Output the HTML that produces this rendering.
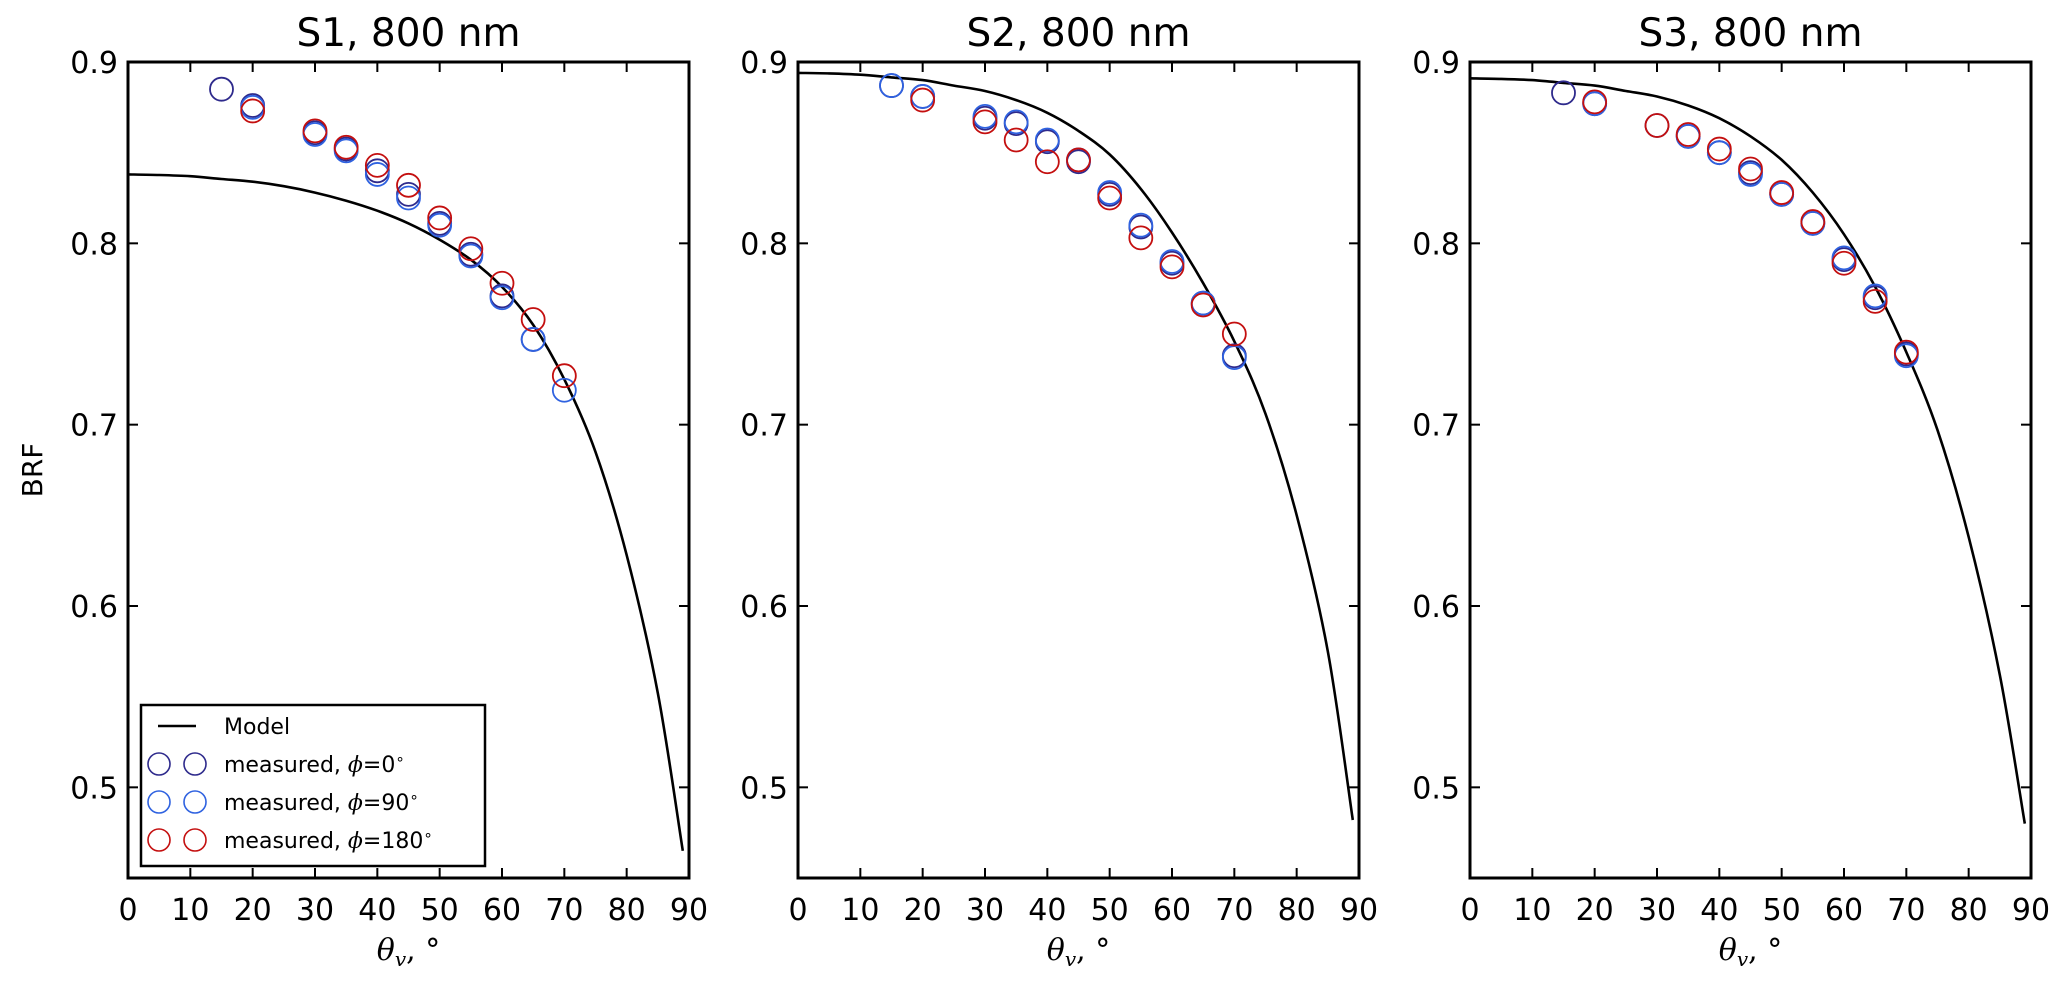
<!DOCTYPE html>
<html><head><meta charset="utf-8"><style>
html,body{margin:0;padding:0;background:#fff;}
svg{display:block;font-family:"DejaVu Sans","Liberation Sans",sans-serif;}
</style></head><body>
<svg id="fig" width="2067" height="987" viewBox="0 0 2067 987" xmlns="http://www.w3.org/2000/svg"></svg>
<script>
const xTicks = [0,10,20,30,40,50,60,70,80,90];
const yTicks = [0.5,0.6,0.7,0.8,0.9];
const yTickLabels = ["0.5","0.6","0.7","0.8","0.9"];
const panelTitles = ["S1, 800 nm","S2, 800 nm","S3, 800 nm"];
const angles = [15,20,30,35,40,45,50,55,60,65,70];
const modelX = [0,5,10,15,20,25,30,35,40,45,50,55,60,65,70,75,80,85,89];
const s1Model = [0.838,0.8377,0.837,0.8355,0.834,0.8315,0.828,0.8235,0.818,0.811,0.802,0.791,0.776,0.755,0.725,0.685,0.628,0.552,0.465];
const s2Model = [0.894,0.8937,0.893,0.8915,0.890,0.887,0.884,0.879,0.872,0.862,0.849,0.830,0.806,0.778,0.746,0.706,0.650,0.575,0.482];
const s3Model = [0.891,0.8907,0.890,0.8885,0.887,0.884,0.881,0.876,0.869,0.859,0.846,0.828,0.805,0.776,0.740,0.697,0.638,0.562,0.480];
const s1Phi0 = [0.885,0.876,0.861,0.852,0.840,0.827,0.811,0.794,0.771,0.747,null];
const s1Phi90 = [null,0.875,0.860,0.851,0.838,0.825,0.810,0.793,0.770,0.747,0.719];
const s1Phi180 = [null,0.873,0.862,0.853,0.843,0.832,0.814,0.797,0.778,0.758,0.727];
const s2Phi0 = [0.887,0.881,0.869,0.866,0.856,0.845,0.827,0.809,0.789,0.767,0.738];
const s2Phi90 = [0.887,0.881,0.870,0.867,0.857,0.846,0.828,0.810,0.790,0.767,0.737];
const s2Phi180 = [null,0.879,0.867,0.857,0.845,0.846,0.825,0.803,0.787,0.766,0.750];
const s3Phi0 = [0.883,0.877,0.865,0.859,0.850,0.839,0.827,0.811,0.791,0.770,0.739];
const s3Phi90 = [null,0.877,null,0.859,0.850,0.838,0.827,0.811,0.792,0.771,0.738];
const s3Phi180 = [null,0.878,0.865,0.860,0.852,0.841,0.828,0.812,0.789,0.768,0.740];
const legendLabels = ["Model","measured, ","measured, ","measured, "];
const legendPhi = ["","0","90","180"];

const NS="http://www.w3.org/2000/svg";
const svg=document.getElementById('fig');
const colors={p0:"#2e2a8c",p90:"#2f62e0",p180:"#c40f0f"};
const panels=[
 {left:128,title:panelTitles[0],model:s1Model,d:[s1Phi0,s1Phi90,s1Phi180],name:"s1"},
 {left:798,title:panelTitles[1],model:s2Model,d:[s2Phi0,s2Phi90,s2Phi180],name:"s2"},
 {left:1470,title:panelTitles[2],model:s3Model,d:[s3Phi0,s3Phi90,s3Phi180],name:"s3"}];
const W=561, TOP=62, BOT=878, YMIN=0.45, YMAX=0.9;
function mk(tag,attrs,parent){const e=document.createElementNS(NS,tag);for(const k in attrs)e.setAttribute(k,attrs[k]);(parent||svg).appendChild(e);return e;}
function smoothPath(P){
  let d='M'+P[0][0].toFixed(1)+','+P[0][1].toFixed(1);
  for(let i=0;i<P.length-1;i++){
    const p0=P[Math.max(0,i-1)],p1=P[i],p2=P[i+1],p3=P[Math.min(P.length-1,i+2)];
    const c1=[p1[0]+(p2[0]-p0[0])/6,p1[1]+(p2[1]-p0[1])/6];
    const c2=[p2[0]-(p3[0]-p1[0])/6,p2[1]-(p3[1]-p1[1])/6];
    d+=' C'+c1[0].toFixed(1)+','+c1[1].toFixed(1)+' '+c2[0].toFixed(1)+','+c2[1].toFixed(1)+' '+p2[0].toFixed(1)+','+p2[1].toFixed(1);
  }
  return d;
}
panels.forEach((p,pi)=>{
  const g=mk('g',{});
  
  
  const xs=v=>p.left+v/90*W;
  const ys=v=>BOT-(v-YMIN)/(YMAX-YMIN)*(BOT-TOP);
  const P=modelX.map((x,i)=>[xs(x),ys(p.model[i])]);
  const ml=mk('path',{d:smoothPath(P),fill:'none',stroke:'#000','stroke-width':2.6,'stroke-linejoin':'round'},g);
  
  
  const cols=[colors.p0,colors.p90,colors.p180];
  const snames=['phi0','phi90','phi180'];
  p.d.forEach((arr,si)=>{
    arr.forEach((v,i)=>{
      if(v===null)return;
      const c=mk('circle',{cx:xs(angles[i]),cy:ys(v),r:11.5,fill:'none',stroke:cols[si],'stroke-width':1.8},g);
      
      
    });
  });
  const fr=mk('rect',{x:p.left,y:TOP,width:W,height:BOT-TOP,fill:'none',stroke:'#000','stroke-width':3},g);
  
  
  xTicks.forEach(t=>{
    const x=xs(t);
    mk('line',{x1:x,y1:BOT,x2:x,y2:BOT-10,stroke:'#000','stroke-width':2},g);
    mk('line',{x1:x,y1:TOP,x2:x,y2:TOP+10,stroke:'#000','stroke-width':2},g);
    const tx=mk('text',{x:x,y:BOT+42,'font-size':30,'text-anchor':'middle'},g);
    tx.textContent=t;
    
    
  });
  yTicks.forEach((t,i)=>{
    const y=ys(t);
    mk('line',{x1:p.left,y1:y,x2:p.left+10,y2:y,stroke:'#000','stroke-width':2},g);
    mk('line',{x1:p.left+W,y1:y,x2:p.left+W-10,y2:y,stroke:'#000','stroke-width':2},g);
    const tx=mk('text',{x:p.left-10,y:y+11,'font-size':30,'text-anchor':'end'},g);
    tx.textContent=yTickLabels[i];
    
    
  });
  const ti=mk('text',{x:p.left+W/2,y:46,'font-size':39,'text-anchor':'middle'},g);
  ti.textContent=p.title;
  
  
  const xl=mk('text',{x:p.left+W/2,y:960,'font-size':30,'text-anchor':'middle','font-family':'DejaVu Serif, serif'},g);
  xl.innerHTML='<tspan font-style="italic">θ</tspan><tspan font-style="italic" font-size="20" dy="6">v</tspan><tspan dy="-6">, °</tspan>';
  
  
});
const yl=mk('text',{x:0,y:0,'font-size':28,'text-anchor':'middle',transform:'translate(42,470) rotate(-90)'});
yl.textContent='BRF';


const lg=mk('g',{});


mk('rect',{x:141,y:705,width:344,height:161,fill:'#fff',stroke:'#000','stroke-width':2.5},lg);
const rowY=[726,764,802,840];
const lcols=[null,colors.p0,colors.p90,colors.p180];
rowY.forEach((y,i)=>{
  const e=mk('g',{},lg);
  
  
  if(i===0){mk('line',{x1:158,y1:y,x2:196,y2:y,stroke:'#000','stroke-width':2.6},e);}
  else{
    mk('circle',{cx:159,cy:y,r:11,fill:'none',stroke:lcols[i],'stroke-width':1.6},e);
    mk('circle',{cx:195,cy:y,r:11,fill:'none',stroke:lcols[i],'stroke-width':1.6},e);
  }
  const t=mk('text',{x:224,y:y+8,'font-size':22},e);
  if(i===0)t.textContent=legendLabels[0];
  else t.innerHTML=legendLabels[i]+'<tspan font-family="DejaVu Serif, serif" font-style="italic">ϕ</tspan>='+legendPhi[i]+'<tspan font-size="15" dy="-8">∘</tspan>';
});
</script>
</body></html>
